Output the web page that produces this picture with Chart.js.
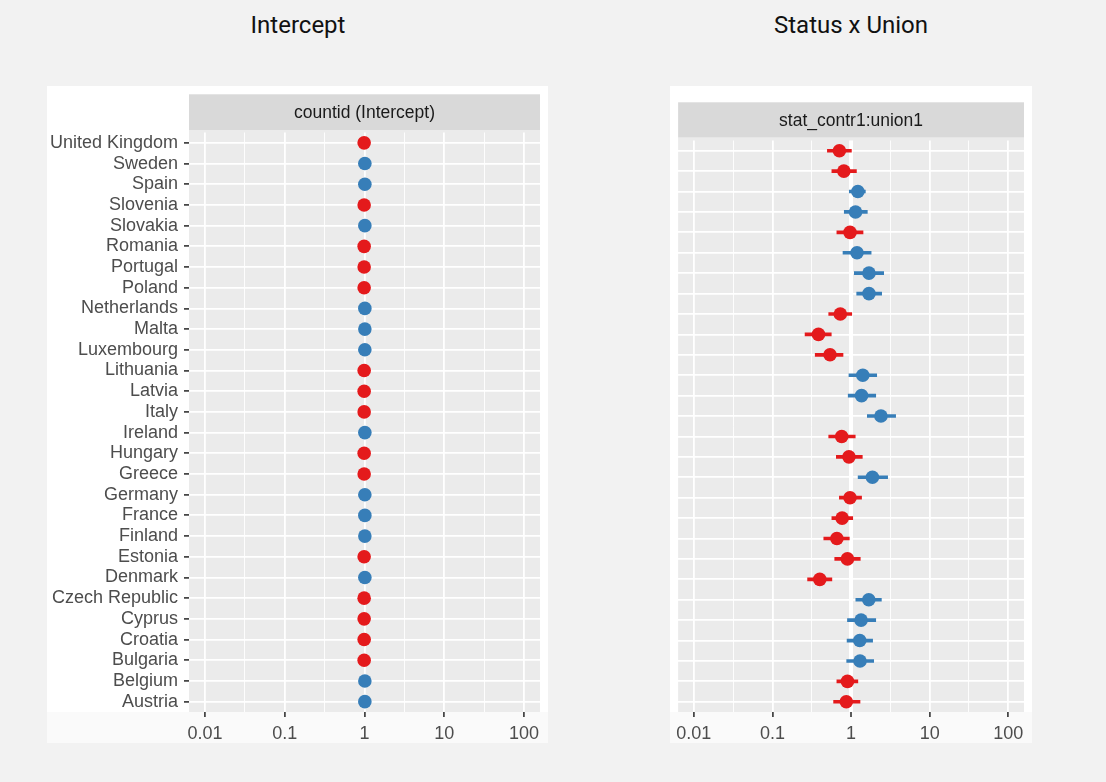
<!DOCTYPE html>
<html>
<head>
<meta charset="utf-8">
<script src="https://cdn.jsdelivr.net/npm/chart.js@4/dist/chart.umd.min.js"></script>
<style>
  html, body { margin: 0; padding: 0; }
  body { width: 1106px; height: 782px; background: #f2f2f2; position: relative; overflow: hidden; }
  .title { position: absolute; top: 13px; width: 300px; text-align: center; font-family: Roboto, "Noto Sans", sans-serif; font-size: 24px; line-height: 24px; color: #111; }
  canvas { position: absolute; display: block; }
</style>
</head>
<body>
<div class="title" style="left:148px;">Intercept</div>
<div class="title" style="left:701px;">Status x Union</div>
<canvas id="left" width="501" height="657" style="left:47px; top:86px; width:501px; height:657px;"></canvas>
<canvas id="right" width="362" height="657" style="left:670px; top:86px; width:362px; height:657px;"></canvas>
<script>
// ---- data ----
const countries = ['United Kingdom','Sweden','Spain','Slovenia','Slovakia','Romania','Portugal','Poland','Netherlands','Malta','Luxembourg','Lithuania','Latvia','Italy','Ireland','Hungary','Greece','Germany','France','Finland','Estonia','Denmark','Czech Republic','Cyprus','Croatia','Bulgaria','Belgium','Austria'];
const interceptEst = [0.99,1.01,1.01,0.99,1.01,0.99,0.99,0.99,1.01,1.01,1.01,0.99,0.99,0.99,1.01,0.99,0.99,1.01,1.01,1.01,0.99,1.01,0.99,0.99,0.99,0.99,1.01,1.01];
const unionEst = [0.71,0.81,1.22,1.14,0.97,1.19,1.69,1.69,0.73,0.385,0.54,1.41,1.36,2.40,0.76,0.94,1.87,0.97,0.77,0.66,0.90,0.40,1.68,1.34,1.29,1.30,0.90,0.87];
const unionLo  = [0.50,0.57,0.95,0.82,0.66,0.79,1.10,1.18,0.52,0.26,0.35,0.94,0.92,1.61,0.52,0.65,1.23,0.71,0.57,0.45,0.62,0.28,1.15,0.90,0.89,0.88,0.66,0.60];
const unionHi  = [1.01,1.17,1.52,1.61,1.42,1.80,2.60,2.45,1.02,0.56,0.79,2.12,2.06,3.69,1.13,1.39,2.92,1.36,1.05,0.95,1.31,0.57,2.43,2.06,1.88,1.94,1.22,1.30];
const majorTicks = [0.01, 0.1, 1, 10, 100];
const minorTicks = [0.0316, 0.316, 3.16, 31.6];
const tickLabels = ['0.01', '0.1', '1', '10', '100'];
const stripLabels = ['countid (Intercept)', 'stat_contr1:union1'];

const RED = '#E41A1C', BLUE = '#377EB8';
const colorOf = v => (v < 1 ? RED : BLUE);
const FONT = '"Liberation Sans", Arial, sans-serif';

const panelBg = {
  id: 'panelBg',
  beforeDraw(chart, args, o) {
    const { ctx, chartArea: a, width, height } = chart;
    ctx.save();
    ctx.fillStyle = '#ffffff'; ctx.fillRect(0, 0, width, height);
    ctx.fillStyle = '#fafafa'; ctx.fillRect(0, a.bottom, width, height - a.bottom);
    ctx.fillStyle = '#d9d9d9'; ctx.fillRect(a.left, o.stripTop, a.right - a.left, o.stripHeight);
    const pTop = o.stripTop + o.stripHeight;
    ctx.fillStyle = '#ebebeb'; ctx.fillRect(a.left, pTop, a.right - a.left, a.bottom - pTop);
    ctx.fillStyle = '#1a1a1a';
    ctx.font = '17.5px ' + FONT;
    ctx.textAlign = 'center'; ctx.textBaseline = 'middle';
    ctx.fillText(o.text, (a.left + a.right) / 2, o.stripTop + o.stripHeight / 2 + 1);
    ctx.restore();
  }
};

const allTicks = majorTicks.concat(minorTicks).sort((p, q) => p - q);
function xScale(thickOne) {
  return {
    type: 'logarithmic', position: 'bottom',
    min: Math.pow(10, -2.2), max: Math.pow(10, 2.2), bounds: 'data',
    afterBuildTicks(s) { s.ticks = allTicks.map(v => ({ value: v })); },
    afterFit(s) { s.height = 31; },
    ticks: {
      autoSkip: false, maxRotation: 0, minRotation: 0, padding: 6,
      color: '#4d4d4d', font: { family: FONT, size: 18 },
      callback(v) { const i = majorTicks.indexOf(v); return i >= 0 ? tickLabels[i] : ''; }
    },
    grid: {
      color: '#ffffff',
      lineWidth(c) {
        const v = c.tick ? c.tick.value : null;
        if (thickOne && v === 1) return 4;
        return majorTicks.indexOf(v) >= 0 ? 1.8 : 0.9;
      },
      tickColor(c) { return c.tick && majorTicks.indexOf(c.tick.value) >= 0 ? '#333333' : 'rgba(0,0,0,0)'; },
      tickLength: 5, tickWidth: 1.6
    },
    border: { display: false }
  };
}
function yScale(showLabels, w) {
  return {
    type: 'category', position: 'left', offset: true,
    afterFit(s) { s.width = w; },
    ticks: {
      display: showLabels, autoSkip: false, padding: 6,
      color: '#4d4d4d', font: { family: FONT, size: 18 }
    },
    grid: {
      offset: false, color: '#ffffff', lineWidth: 1.8,
      drawTicks: showLabels, tickLength: 5, tickWidth: 1.6, tickColor: '#333333'
    },
    border: { display: false }
  };
}
const common = {
  responsive: false, animation: false, events: [], indexAxis: 'y',
};

new Chart(document.getElementById('left'), {
  type: 'bar',
  data: {
    labels: countries,
    datasets: [{
      type: 'line', indexAxis: 'y', data: interceptEst, showLine: false,
      pointRadius: 6.8, pointHoverRadius: 6.8, pointBorderWidth: 0,
      pointBackgroundColor: interceptEst.map(colorOf), order: 0
    }]
  },
  options: Object.assign({}, common, {
    layout: { padding: { top: 46.5, right: 8, left: 0, bottom: 0 } },
    scales: { x: xScale(false), y: yScale(true, 142) },
    plugins: {
      legend: { display: false }, tooltip: { enabled: false },
      panelBg: { stripTop: 8.3, stripHeight: 35.7, text: stripLabels[0] }
    }
  }),
  plugins: [panelBg]
});

new Chart(document.getElementById('right'), {
  type: 'bar',
  data: {
    labels: countries,
    datasets: [{
      type: 'bar', indexAxis: 'y', data: unionLo.map((lo, i) => [lo, unionHi[i]]),
      backgroundColor: unionEst.map(colorOf), barThickness: 3, borderWidth: 0,
      borderSkipped: false, order: 1
    }, {
      type: 'line', indexAxis: 'y', data: unionEst, showLine: false,
      pointRadius: 6.8, pointHoverRadius: 6.8, pointBorderWidth: 0,
      pointBackgroundColor: unionEst.map(colorOf), order: 0
    }]
  },
  options: Object.assign({}, common, {
    layout: { padding: { top: 54.5, right: 8, left: 7, bottom: 0 } },
    scales: { x: xScale(true), y: yScale(false, 0) },
    plugins: {
      legend: { display: false }, tooltip: { enabled: false },
      panelBg: { stripTop: 16.3, stripHeight: 35.4, text: stripLabels[1] }
    }
  }),
  plugins: [panelBg]
});
</script>
</body>
</html>
